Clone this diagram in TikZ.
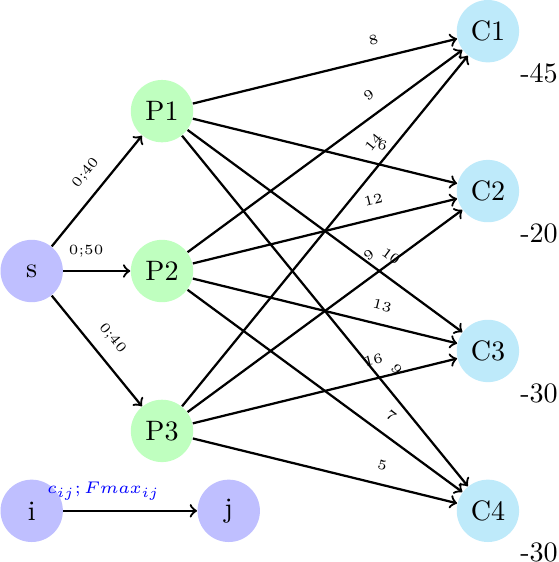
\documentclass[tikz,border=0pt]{standalone}
\usepackage{xcolor}
\usepackage{tikz}
\usetikzlibrary{arrows,positioning}
\definecolor{clientblue}{RGB}{190,234,250}

\begin{document}
\begin{tikzpicture}[
    nosep/.style={inner sep=0},
    vertex/.style={circle, nosep, minimum size=0.78cm},
    source/.style={vertex, fill=blue!25},
    plant/.style={vertex, fill=green!25},
    client/.style={vertex, fill=clientblue},
    flow/.style={draw, thick, ->},
    cost/.style={font=\tiny, sloped, above, inner sep=4.6pt}]
\useasboundingbox (-0.3965,-3.64) rectangle (6.595,3.39);

\node[source] (s)  at (0,0)     {s};
\node[plant]  (P1) at (1.63,2)  {P1};
\node[plant]  (P2) at (1.63,0)  {P2};
\node[plant]  (P3) at (1.63,-2) {P3};
\node[client, label={below right:-45}] (C1) at (5.707,3)  {C1};
\node[client, label={below right:-20}] (C2) at (5.707,1)  {C2};
\node[client, label={below right:-30}] (C3) at (5.707,-1) {C3};
\node[client, label={below right:-30}] (C4) at (5.707,-3) {C4};
\node[source] (i)  at (0,-3)    {i};
\node[source] (j)  at (2.465,-3) {j};

\path[flow] (s) -- node[cost, pos=0.55] {0;40} (P1);
\path[flow] (s) -- node[cost, pos=0.34] {0;50} (P2);
\path[flow] (s) -- node[cost, pos=0.5]  {0;40} (P3);

\path[flow] (P1) -- node[cost, pos=0.7] {8}  (C1);
\path[flow] (P1) -- node[cost, pos=0.7] {6}  (C2);
\path[flow] (P1) -- node[cost, pos=0.7] {10} (C3);
\path[flow] (P1) -- node[cost, pos=0.7] {9}  (C4);
\path[flow] (P2) -- node[cost, pos=0.7] {9}  (C1);
\path[flow] (P2) -- node[cost, pos=0.7] {12} (C2);
\path[flow] (P2) -- node[cost, pos=0.7] {13} (C3);
\path[flow] (P2) -- node[cost, pos=0.7] {7}  (C4);
\path[flow] (P3) -- node[cost, pos=0.72] {14} (C1);
\path[flow] (P3) -- node[cost, pos=0.7] {9}  (C2);
\path[flow] (P3) -- node[cost, pos=0.7] {16} (C3);
\path[flow] (P3) -- node[cost, pos=0.7] {5}  (C4);

\path[flow] (i) -- node[above, pos=0.3, font=\fontsize{6}{7}\selectfont, text=blue, inner sep=3.5pt] {$c_{ij};Fmax_{ij}$} (j);

\end{tikzpicture}
\end{document}
